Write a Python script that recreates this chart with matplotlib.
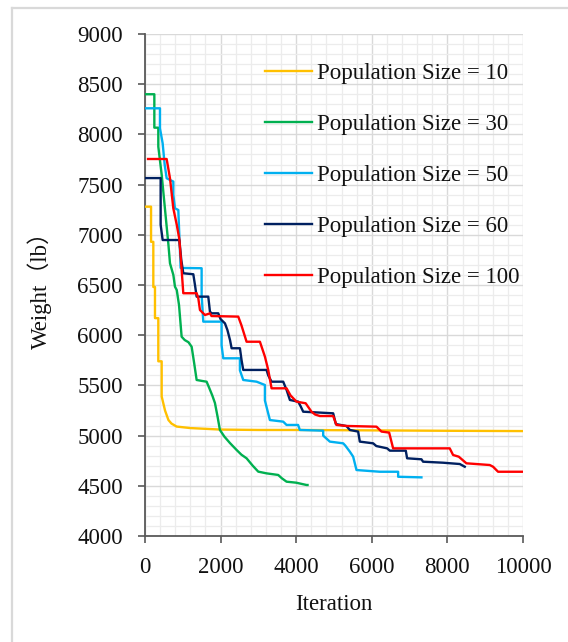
import matplotlib
matplotlib.use("Agg")
import matplotlib.pyplot as plt
from matplotlib.ticker import MultipleLocator
from matplotlib.lines import Line2D

# ---------------- data (iteration, weight) ----------------
it_10 = [0, 160, 160, 220, 220, 264, 264, 352, 352, 441, 441, 530, 620, 700, 837, 1200, 2000, 3000, 4100, 6000, 8000, 10000]
w_10 = [7280, 7280, 6930, 6930, 6480, 6480, 6170, 6170, 5740, 5740, 5390, 5250, 5155, 5120, 5090, 5075, 5060, 5056, 5056, 5052, 5048, 5045]

it_30 = [0, 247, 247, 352, 352, 441, 530, 620, 661, 750, 793, 840, 900, 969, 1050, 1150, 1234, 1300, 1366, 1500, 1630,
         1700, 1780, 1850, 1920, 1982, 2100, 2247, 2423, 2550, 2687, 2850, 2996, 3216, 3524, 3620, 3745, 4000, 4273, 4300]
w_30 = [8400, 8400, 8067, 8067, 7878, 7600, 7250, 6900, 6716, 6600, 6483, 6450, 6300, 5985, 5952, 5930, 5885, 5723, 5554, 5545, 5537,
        5474, 5400, 5325, 5188, 5056, 4990, 4926, 4857, 4810, 4774, 4700, 4641, 4624, 4608, 4575, 4541, 4531, 4508, 4508]

it_50 = [0, 396, 396, 467, 520, 573, 749, 749, 793, 881, 943, 1498, 1498, 1542, 2026, 2026, 2070, 2511, 2511, 2599, 2952, 3172,
         3172, 3304, 3656, 3745, 4050, 4097, 4714, 4714, 4890, 5243, 5300, 5419, 5507, 5595, 6212, 6697, 6697, 7313]
w_50 = [8260, 8260, 8061, 7911, 7700, 7563, 7530, 7400, 7264, 7247, 6670, 6667, 6400, 6135, 6135, 5900, 5770, 5770, 5650, 5554, 5537, 5504,
        5350, 5155, 5139, 5106, 5106, 5056, 5049, 5000, 4940, 4923, 4900, 4840, 4790, 4657, 4640, 4640, 4590, 4584]

it_60 = [0, 414, 414, 467, 908, 960, 1013, 1278, 1322, 1366, 1674, 1718, 1760, 1938, 2000, 2115, 2180, 2250, 2291, 2511, 2555,
         2599, 3216, 3260, 3348, 3656, 3750, 3833, 4053, 4120, 4185, 4978, 5049, 5331, 5419, 5639, 5683, 6036, 6120, 6406, 6476,
         6899, 6934, 7313, 7357, 7885, 8327, 8459]
w_60 = [7565, 7565, 7100, 6948, 6948, 6750, 6617, 6607, 6500, 6384, 6384, 6235, 6218, 6218, 6160, 6118, 6052, 5950, 5870, 5870, 5750,
        5654, 5654, 5600, 5537, 5537, 5450, 5355, 5338, 5290, 5238, 5222, 5115, 5095, 5056, 5040, 4940, 4923, 4896, 4873, 4850,
        4850, 4774, 4764, 4740, 4730, 4717, 4690]

it_100 = [80, 573, 661, 749, 840, 908, 960, 1013, 1366, 1410, 1454, 1586, 1718, 1760, 2467, 2550, 2687, 3040, 3172, 3260, 3348,
          3745, 3850, 4009, 4250, 4405, 4500, 4626, 4978, 5066, 5331, 6124, 6256, 6459, 6564, 8062, 8150, 8300, 8503, 9120,
          9208, 9340, 10000]
w_100 = [7755, 7755, 7563, 7264, 7100, 6958, 6700, 6418, 6418, 6368, 6251, 6201, 6218, 6191, 6185, 6100, 5935, 5935, 5787, 5654, 5471,
         5471, 5400, 5338, 5322, 5238, 5210, 5195, 5195, 5106, 5096, 5089, 5040, 5030, 4873, 4873, 4807, 4790, 4724, 4707,
         4690, 4640, 4640]

series_labels = ["Population Size = 10", "Population Size = 30", "Population Size = 50",
                 "Population Size = 60", "Population Size = 100"]
series_colors = ["#FFC000", "#00B050", "#00B0F0", "#002060", "#FF0000"]

x_ticks = [0, 2000, 4000, 6000, 8000, 10000]
y_ticks = [4000, 4500, 5000, 5500, 6000, 6500, 7000, 7500, 8000, 8500, 9000]

# ---------------- figure ----------------
W, H = 568, 642
fig = plt.figure(figsize=(W / 100, H / 100), dpi=100)
serif = ["Liberation Serif", "Noto Sans CJK SC", "DejaVu Serif"]
plt.rcParams["font.family"] = serif

ax = fig.add_axes([145 / W, 1 - 536 / H, 378 / W, 502 / H])

series = [(it_10, w_10), (it_30, w_30), (it_50, w_50), (it_60, w_60), (it_100, w_100)]
for (xs, ys), lab, col in zip(series, series_labels, series_colors):
    ax.plot(xs, ys, color=col, lw=1.7, label=lab, solid_joinstyle="round", zorder=3)

ax.set_xlim(0, 10000)
ax.set_ylim(4000, 9000)
ax.set_xticks(x_ticks)
ax.set_yticks(y_ticks)
ax.xaxis.set_minor_locator(MultipleLocator(400))
ax.yaxis.set_minor_locator(MultipleLocator(100))
ax.grid(which="major", color="#d9d9d9", lw=1.0, zorder=0)
ax.grid(which="minor", color="#ececec", lw=0.9, zorder=0)
ax.set_axisbelow(True)

for s in ["top", "right"]:
    ax.spines[s].set_visible(False)
for s in ["left", "bottom"]:
    ax.spines[s].set_color("#595959")
    ax.spines[s].set_linewidth(1.3)

ax.tick_params(which="major", direction="out", length=5, width=1.2, color="#595959",
               labelsize=16.5, labelcolor="#111111")
ax.tick_params(axis="y", pad=11)
ax.tick_params(axis="x", pad=10)
ax.tick_params(which="minor", length=0)

ax.set_xlabel("Iteration", fontsize=16.5, color="#111111", labelpad=12)
ax.set_ylabel("Weight（lb）", fontsize=16.5, color="#111111", labelpad=18)

handles = [Line2D([0], [0], color=c, lw=1.7) for c in series_colors]
leg = fig.legend(handles, series_labels, loc="upper left",
                 bbox_to_anchor=(265 / W, 1 - 63 / H), bbox_transform=fig.transFigure,
                 frameon=False, fontsize=16.5, borderpad=0, borderaxespad=0,
                 handlelength=2.05, handletextpad=0.22, labelspacing=1.31)
for t in leg.get_texts():
    t.set_color("#111111")

# light border of the chart area
fig.add_artist(Line2D([12 / W, 12 / W], [0, 1 - 8 / H], color="#d9d9d9", lw=1.6,
                      transform=fig.transFigure))
fig.add_artist(Line2D([12 / W, 1], [1 - 8 / H, 1 - 8 / H], color="#d9d9d9", lw=1.6,
                      transform=fig.transFigure))

fig.savefig("out.png", dpi=100, facecolor="white")
